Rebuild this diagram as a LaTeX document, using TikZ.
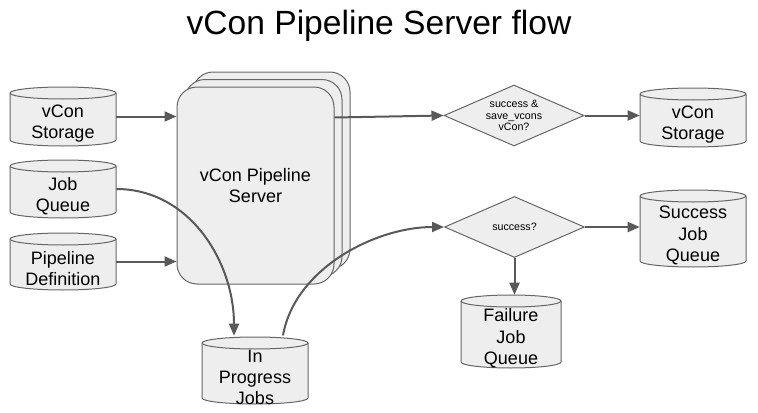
\documentclass[tikz,border=0pt]{standalone}
\usepackage{fontspec}
\setmainfont{Liberation Sans}
\usetikzlibrary{shapes.geometric,arrows.meta}
\definecolor{boxfill}{HTML}{EEEEEE}
\definecolor{linegray}{HTML}{666666}
\definecolor{arrowgray}{HTML}{595959}
\tikzset{
  cylstyle/.style={fill=boxfill, draw=linegray, line width=0.75pt},
  srvbox/.style={rectangle, rounded corners=15pt, fill=boxfill, draw=linegray, line width=0.75pt,
    minimum width=117.75pt, minimum height=147.75pt, inner sep=0pt, align=center,
    font=\fontsize{13.5}{15.5}\selectfont},
  decision/.style={diamond, aspect=2.3, fill=boxfill, draw=linegray, line width=0.75pt,
    minimum width=105pt, minimum height=45.75pt, inner sep=0pt, align=center,
    font=\fontsize{8}{8.7}\selectfont},
  conn/.style={draw=arrowgray, line width=1.5pt, -{Triangle[length=9pt,width=7.5pt]}},
  lbl/.style={align=center, font=\fontsize{13.5}{16}\selectfont, inner sep=0pt},
  cylbox/.style={rectangle, inner sep=0pt, draw=none, fill=none},
  titlestyle/.style={font=\fontsize{25.2}{30}\selectfont, inner sep=0pt},
}
% name, x1, x2, top (px from top), bottom (px from top), text
\newcommand\dbcyl[6]{%
  \pgfmathsetmacro\cylXa{#2}%
  \pgfmathsetmacro\cylXb{#3}%
  \pgfmathsetmacro\cylYt{412-#4}%
  \pgfmathsetmacro\cylYb{412-#5}%
  \pgfmathsetmacro\cylR{(#3-#2)/2*0.75}%
  \pgfmathsetmacro\cylW{(#3-#2)*0.75}%
  \pgfmathsetmacro\cylH{(#5-#4)*0.75}%
  \filldraw[cylstyle] (\cylXa,\cylYt-6) -- (\cylXa,\cylYb+6)
     arc[start angle=180,end angle=360,x radius=\cylR pt,y radius=4.5pt]
     -- (\cylXb,\cylYt-6)
     arc[start angle=0,end angle=180,x radius=\cylR pt,y radius=4.5pt] -- cycle;
  \draw[cylstyle, fill=none] (\cylXa,\cylYt-6)
     arc[start angle=180,end angle=360,x radius=\cylR pt,y radius=4.5pt];
  \node[cylbox, minimum width=\cylW pt, minimum height=\cylH pt] (#1)
     at ({(#2+#3)/2},{(\cylYt+\cylYb)/2}) {};
  \node[lbl] (#1-t) at ({(#2+#3)/2},{(\cylYt-14+\cylYb)/2}) {#6};
}
\begin{document}
\begin{tikzpicture}[x=0.75pt,y=0.75pt]
\useasboundingbox (0,0) rectangle (758,412);
\node[titlestyle] (title) at (379,386) {vCon Pipeline Server flow};

% left cylinders
\dbcyl{vs1}{10}{116}{87}{146}{vCon\\Storage}
\dbcyl{jq}{10}{116}{160}{218}{Job\\Queue}
\dbcyl{pd}{10}{116}{233}{290}{Pipeline\\Definition}

% server stack
\node[srvbox] (srv3) at (271.5,241.5) {};
\node[srvbox] (srv2) at (263.5,234) {};
\node[srvbox] (srv) at (255.5,226.5) {vCon Pipeline\\Server};

% decisions
\node[decision] (d1) at (514,296.5) {success \&\\save\_vcons\\vCon?};
\node[decision] (d2) at (514.5,185) {success?};

% right / bottom cylinders
\dbcyl{vs2}{640}{746}{88}{147}{vCon\\Storage}
\dbcyl{sjq}{640}{746}{190}{267}{Success\\Job\\Queue}
\dbcyl{fjq}{461}{561}{295}{368}{Failure\\Job\\Queue}
\dbcyl{ipj}{202}{308}{337}{404}{In\\Progress\\Jobs}

% connectors
\draw[conn] (vs1.east) -- (vs1.east -| srv.west);
\draw[conn] (pd.east) -- (pd.east -| srv.west);
\draw[conn] ([yshift=-23.25pt]srv.north east) -- (d1.west);
\draw[conn] (d1.east) -- (d1.east -| vs2.west);
\draw[conn] (d2.east) -- (d2.east -| sjq.west);
\draw[conn] (d2.south) -- (d2.south |- fjq.north);
\draw[conn] (jq.east) to[out=0,in=90,looseness=1.0] ([xshift=-15.75pt,yshift=0.75pt]ipj.north);
\draw[conn] ([xshift=21pt,yshift=1pt]ipj.north) to[out=80,in=180,looseness=0.9] (d2.west);
\end{tikzpicture}
\end{document}
